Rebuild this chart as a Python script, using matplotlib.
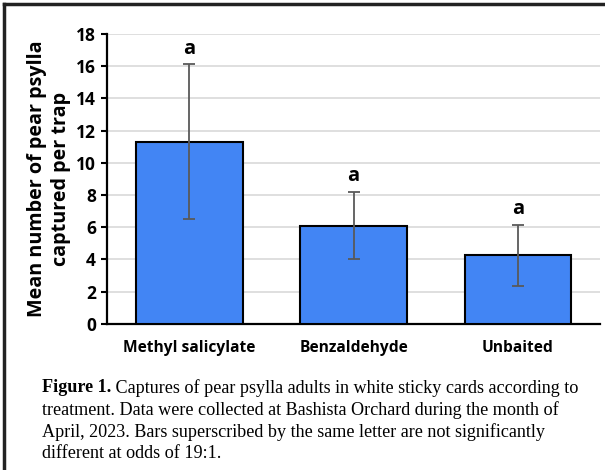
import numpy as np
import matplotlib.pyplot as plt
from matplotlib.lines import Line2D

treatments = ["Methyl salicylate", "Benzaldehyde", "Unbaited"]
meanCaptures = [11.3, 6.1, 4.25]
errors = [4.8, 2.1, 1.9]
letters = ["a", "a", "a"]
yTicks = [0, 2, 4, 6, 8, 10, 12, 14, 16, 18]

barColor = "#4285f4"
sansFont = ["Open Sans", "DejaVu Sans"]
serifFont = ["Liberation Serif", "DejaVu Serif"]
captionSize = 13.1

figure = plt.figure(figsize=(6.05, 4.70), dpi=100)
ax = figure.add_axes([0.177, 0.311, 0.815, 0.617])

x = np.arange(len(treatments))
ax.bar(x, meanCaptures, width=0.65, color=barColor, edgecolor="black",
       linewidth=1.5, zorder=3)
ax.errorbar(x, meanCaptures, yerr=errors, fmt="none", ecolor="#595959",
            elinewidth=1.3, capsize=4, capthick=1.3, zorder=4)
for xi, m, e, lt in zip(x, meanCaptures, errors, letters):
    ax.text(xi, m + e + 0.35, lt, ha="center", va="bottom", fontsize=14.5,
            fontweight="bold", family=sansFont)

ax.set_xlim(-0.5, len(treatments) - 0.5)
ax.set_ylim(0, 18)
ax.set_yticks(yTicks)
ax.set_xticks(x)
ax.set_xticklabels(treatments)
for lbl in ax.get_xticklabels():
    lbl.set_fontweight("bold")
    lbl.set_family(sansFont)
    lbl.set_fontsize(11.2)
for lbl in ax.get_yticklabels():
    lbl.set_fontweight("bold")
    lbl.set_family(sansFont)
    lbl.set_fontsize(12.5)
ax.tick_params(axis="x", length=0, pad=12)
ax.tick_params(axis="y", length=4, width=1.5, pad=4)
ax.yaxis.grid(True, color="#d9d9d9", linewidth=1.2, zorder=0)
ax.spines["top"].set_visible(False)
ax.spines["right"].set_visible(False)
ax.spines["left"].set_linewidth(1.6)
ax.spines["bottom"].set_linewidth(1.6)
ax.set_ylabel("Mean number of pear psylla\ncaptured per trap", fontsize=14.2,
              fontweight="bold", family=sansFont, linespacing=1.25, labelpad=4)

# caption
lineStep = 22 / 470
top = 1 - 379 / 470
boldPart = figure.text(42 / 605, top, "Figure 1.", fontsize=captionSize,
                       fontweight="bold", family=serifFont, va="top", ha="left")
figure.canvas.draw()
bbox = boldPart.get_window_extent().transformed(figure.transFigure.inverted())
figure.text(bbox.x1, top,
            " Captures of pear psylla adults in white sticky cards according to",
            fontsize=captionSize, family=serifFont, va="top", ha="left")
captionLines = [
    "treatment. Data were collected at Bashista Orchard during the month of",
    "April, 2023. Bars superscribed by the same letter are not significantly",
    "different at odds of 19:1.",
]
for i, line in enumerate(captionLines):
    figure.text(42 / 605, top - (i + 1) * lineStep, line, fontsize=captionSize,
                family=serifFont, va="top", ha="left")

# frame lines top and left
figure.add_artist(Line2D([4 / 605, 1], [1 - 4 / 470, 1 - 4 / 470], color="#222222",
                         linewidth=2.5, transform=figure.transFigure))
figure.add_artist(Line2D([4 / 605, 4 / 605], [0, 1 - 4 / 470], color="#222222",
                         linewidth=2.5, transform=figure.transFigure))

plt.savefig("out.png", dpi=100)
